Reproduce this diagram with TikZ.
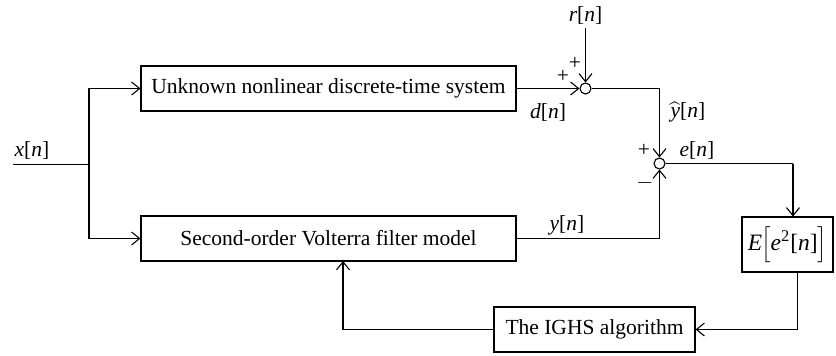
\documentclass[tikz,border=0pt]{standalone}
\usepackage{fontspec}
\setmainfont{Liberation Serif}
\usetikzlibrary{arrows.meta}
\newcommand{\sig}[1]{\textit{#1}[\textit{n}]}
\begin{document}
\begin{tikzpicture}[x=0.5pt,y=-0.5pt,
  font=\fontsize{10.75}{13}\selectfont,
  line width=0.55pt,
  flow/.style={-{Straight Barb[length=4pt,width=6.5pt]}},
  blk/.style={draw,minimum height=22.5pt,inner sep=0pt},
  sumnode/.style={draw,circle,minimum size=5.5pt,inner sep=0pt},
  lbl/.style={inner sep=0pt}]
\useasboundingbox (0,0) rectangle (836,355);

% blocks
\node[blk,minimum width=187.5pt] (plant) at (328.5,88.5) {Unknown nonlinear discrete-time system};
\node[blk,minimum width=187.5pt] (model) at (328.5,238.5) {Second-order Volterra filter model};
\node[blk,minimum width=45.5pt,minimum height=27.5pt,font=\fontsize{11.75}{14}\selectfont] (mse) at (787.5,244.5)
  {\textit{E}\kern-0.5pt$\Bigl[$\textit{e}\textsuperscript{2}[\textit{n}]$\Bigr]$};
\node[blk,minimum width=100.5pt] (ighs) at (594.5,329.5) {The IGHS algorithm};

% summing junctions
\node[sumnode] (s1) at (585.5,88.5) {};
\node[sumnode] (s2) at (659.5,163.5) {};

% routing points
\coordinate (xin) at (13,164.5);
\coordinate (split) at (89,164.5);
\coordinate (rin) at (585.5,28);
\coordinate (erout) at (793,163.5);
\coordinate (mseout) at (797.5,272);
\coordinate (fb) at (343,261);

% input fan-out
\draw (xin) -- (split);
\draw[flow] (split) |- (plant.west);
\draw[flow] (split) |- (model.west);

% disturbance and plant output
\draw[flow] (plant.east) -- (s1.west);
\draw[flow] (rin) -- (s1.north);
\draw[flow] (s1.east) -| (s2.north);
\draw[flow] (model.east) -| (s2.south);

% error path and adaptation loop
\draw (s2.east) -- (erout);
\draw[flow] (erout) -- (erout |- mse.north);
\draw[flow] (mseout) |- (ighs.east);
\draw[flow] (ighs.west) -| (fb);

% labels
\node[lbl] (lx) at (32,150) {\sig{x}};
\node[lbl] (lr) at (585.5,15) {\sig{r}};
\node[lbl] (ld) at (548,112) {\sig{d}};
\node[lbl] (lyh) at (688,112) {$\widehat{\textit{y}}$[\textit{n}]};
\node[lbl] (le) at (697,150.5) {\sig{e}};
\node[lbl] (ly) at (567,225) {\sig{y}};
\node[lbl] (p1) at (575,63.5) {+};
\node[lbl] (p2) at (563,76.5) {+};
\node[lbl] (p3) at (644,150.5) {+};
\node[lbl] (m1) at (645,183) {$-$};
\end{tikzpicture}
\end{document}
